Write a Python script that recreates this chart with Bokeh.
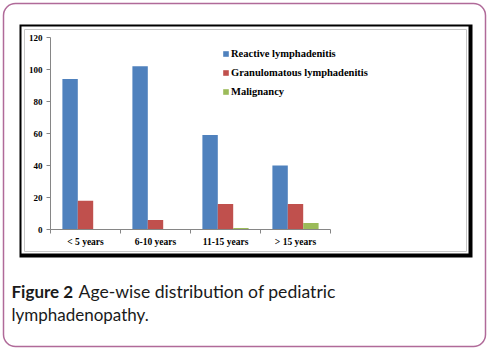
from bokeh.plotting import figure
from bokeh.models import Range1d, BoxAnnotation, Label, Legend, LegendItem
from bokeh.core.properties import value
from bokeh.embed import file_html
from bokeh.resources import INLINE

categories = ["< 5 years", "6-10 years", "11-15 years", "> 15 years"]
reactive = [94, 102, 59, 40]
granulomatous = [18, 6, 16, 16]
malignancy = [0, 0, 1, 4]
series_names = ["Reactive lymphadenitis", "Granulomatous lymphadenitis", "Malignancy"]
y_ticks = [0, 20, 40, 60, 80, 100, 120]
caption_bold = "Figure 2"
caption_rest = "Age-wise distribution of pediatric"
caption_line2 = "lymphadenopathy."

colors = ["#4f81bd", "#c0504d", "#9bbb59"]
offsets = [-0.22, 0.0, 0.22]
bar_w = 0.22

W, H = 491, 352
# plot-area placement in pixels
PL, PR, PT, PB = 50, 330, 37, 229
ux = (PR - PL) / len(categories)      # px per category
uy = (PB - PT) / y_ticks[-1]          # px per unit

def dx(px):  # pixel x -> data x
    return (px - PL) / ux

def dy(py):  # pixel y -> data y
    return (PB - py) / uy

p = figure(width=W, height=H, output_backend="svg", toolbar_location=None,
           x_axis_type=None, y_axis_type=None,
           x_range=Range1d(dx(0), dx(W)), y_range=Range1d(dy(H), dy(0)),
           min_border=0)
p.outline_line_color = None
p.grid.visible = False
p.background_fill_color = "white"
p.border_fill_color = "white"

def box(l, t, r, b, **kw):
    return BoxAnnotation(left=dx(l), right=dx(r), top=dy(t), bottom=dy(b),
                         level="underlay", **kw)

p.add_layout(box(3, 3, 485, 346, fill_color=None, line_color="#b06a99", line_alpha=1,
                 line_width=1.5, border_radius=12))
p.add_layout(box(19, 24, 472, 257, fill_color="black", fill_alpha=1, line_color=None))
p.add_layout(box(21, 26, 468, 253, fill_color="white", fill_alpha=1, line_color=None))
p.add_layout(box(24, 29, 466, 251, fill_color=None, line_color="#c8c8c8", line_alpha=1,
                 line_width=1))

# bars
items = []
for k, vals in enumerate([reactive, granulomatous, malignancy]):
    xs = [i + 0.5 + offsets[k] for i in range(len(categories))]
    r = p.vbar(x=xs, top=vals, bottom=0, width=bar_w, fill_color=colors[k], line_color=None)
    items.append(LegendItem(label=series_names[k], renderers=[r]))

axis_color = "#868686"
n = len(categories)
# y axis
p.segment(x0=[0], y0=[0], x1=[0], y1=[y_ticks[-1]], line_color=axis_color, line_width=1)
p.segment(x0=[dx(PL - 4)] * len(y_ticks), y0=y_ticks, x1=[0] * len(y_ticks), y1=y_ticks,
          line_color=axis_color, line_width=1)
p.text(x=[dx(PL - 8)] * len(y_ticks), y=y_ticks, text=[str(t) for t in y_ticks],
       text_align="right", text_baseline="middle", text_font=value("Liberation Serif"),
       text_font_style="bold", text_font_size="9px", text_color="black")
# x axis
p.segment(x0=[0], y0=[0], x1=[n], y1=[0], line_color=axis_color, line_width=1)
p.segment(x0=list(range(n + 1)), y0=[0] * (n + 1), x1=list(range(n + 1)),
          y1=[dy(PB + 4)] * (n + 1), line_color=axis_color, line_width=1)
p.text(x=[i + 0.5 for i in range(n)], y=[dy(PB + 7)] * n, text=categories,
       text_align="center", text_baseline="top", text_font=value("Liberation Serif"),
       text_font_style="bold", text_font_size="9.5px", text_color="black")

legend = Legend(items=items, location=(222, 255), padding=0, margin=0,
                border_line_color=None, background_fill_color=None, background_fill_alpha=0,
                glyph_width=7, glyph_height=7, label_standoff=2, spacing=7, label_height=12,
                label_text_font="Liberation Serif", label_text_font_style="bold",
                label_text_font_size="10.5px", label_text_color="black")
p.add_layout(legend, "center")

cap_kw = dict(text_font="Lato", text_color="#1a1a1a", text_baseline="alphabetic")
p.add_layout(Label(x=dx(11), y=dy(291), text=caption_bold, text_font_style="bold",
                   text_font_size="17px", **cap_kw))
p.add_layout(Label(x=dx(78), y=dy(291), text=caption_rest, text_font_size="17.6px", **cap_kw))
p.add_layout(Label(x=dx(11), y=dy(314), text=caption_line2, text_font_size="17px", **cap_kw))

open("out.html", "w").write(file_html(p, INLINE))
